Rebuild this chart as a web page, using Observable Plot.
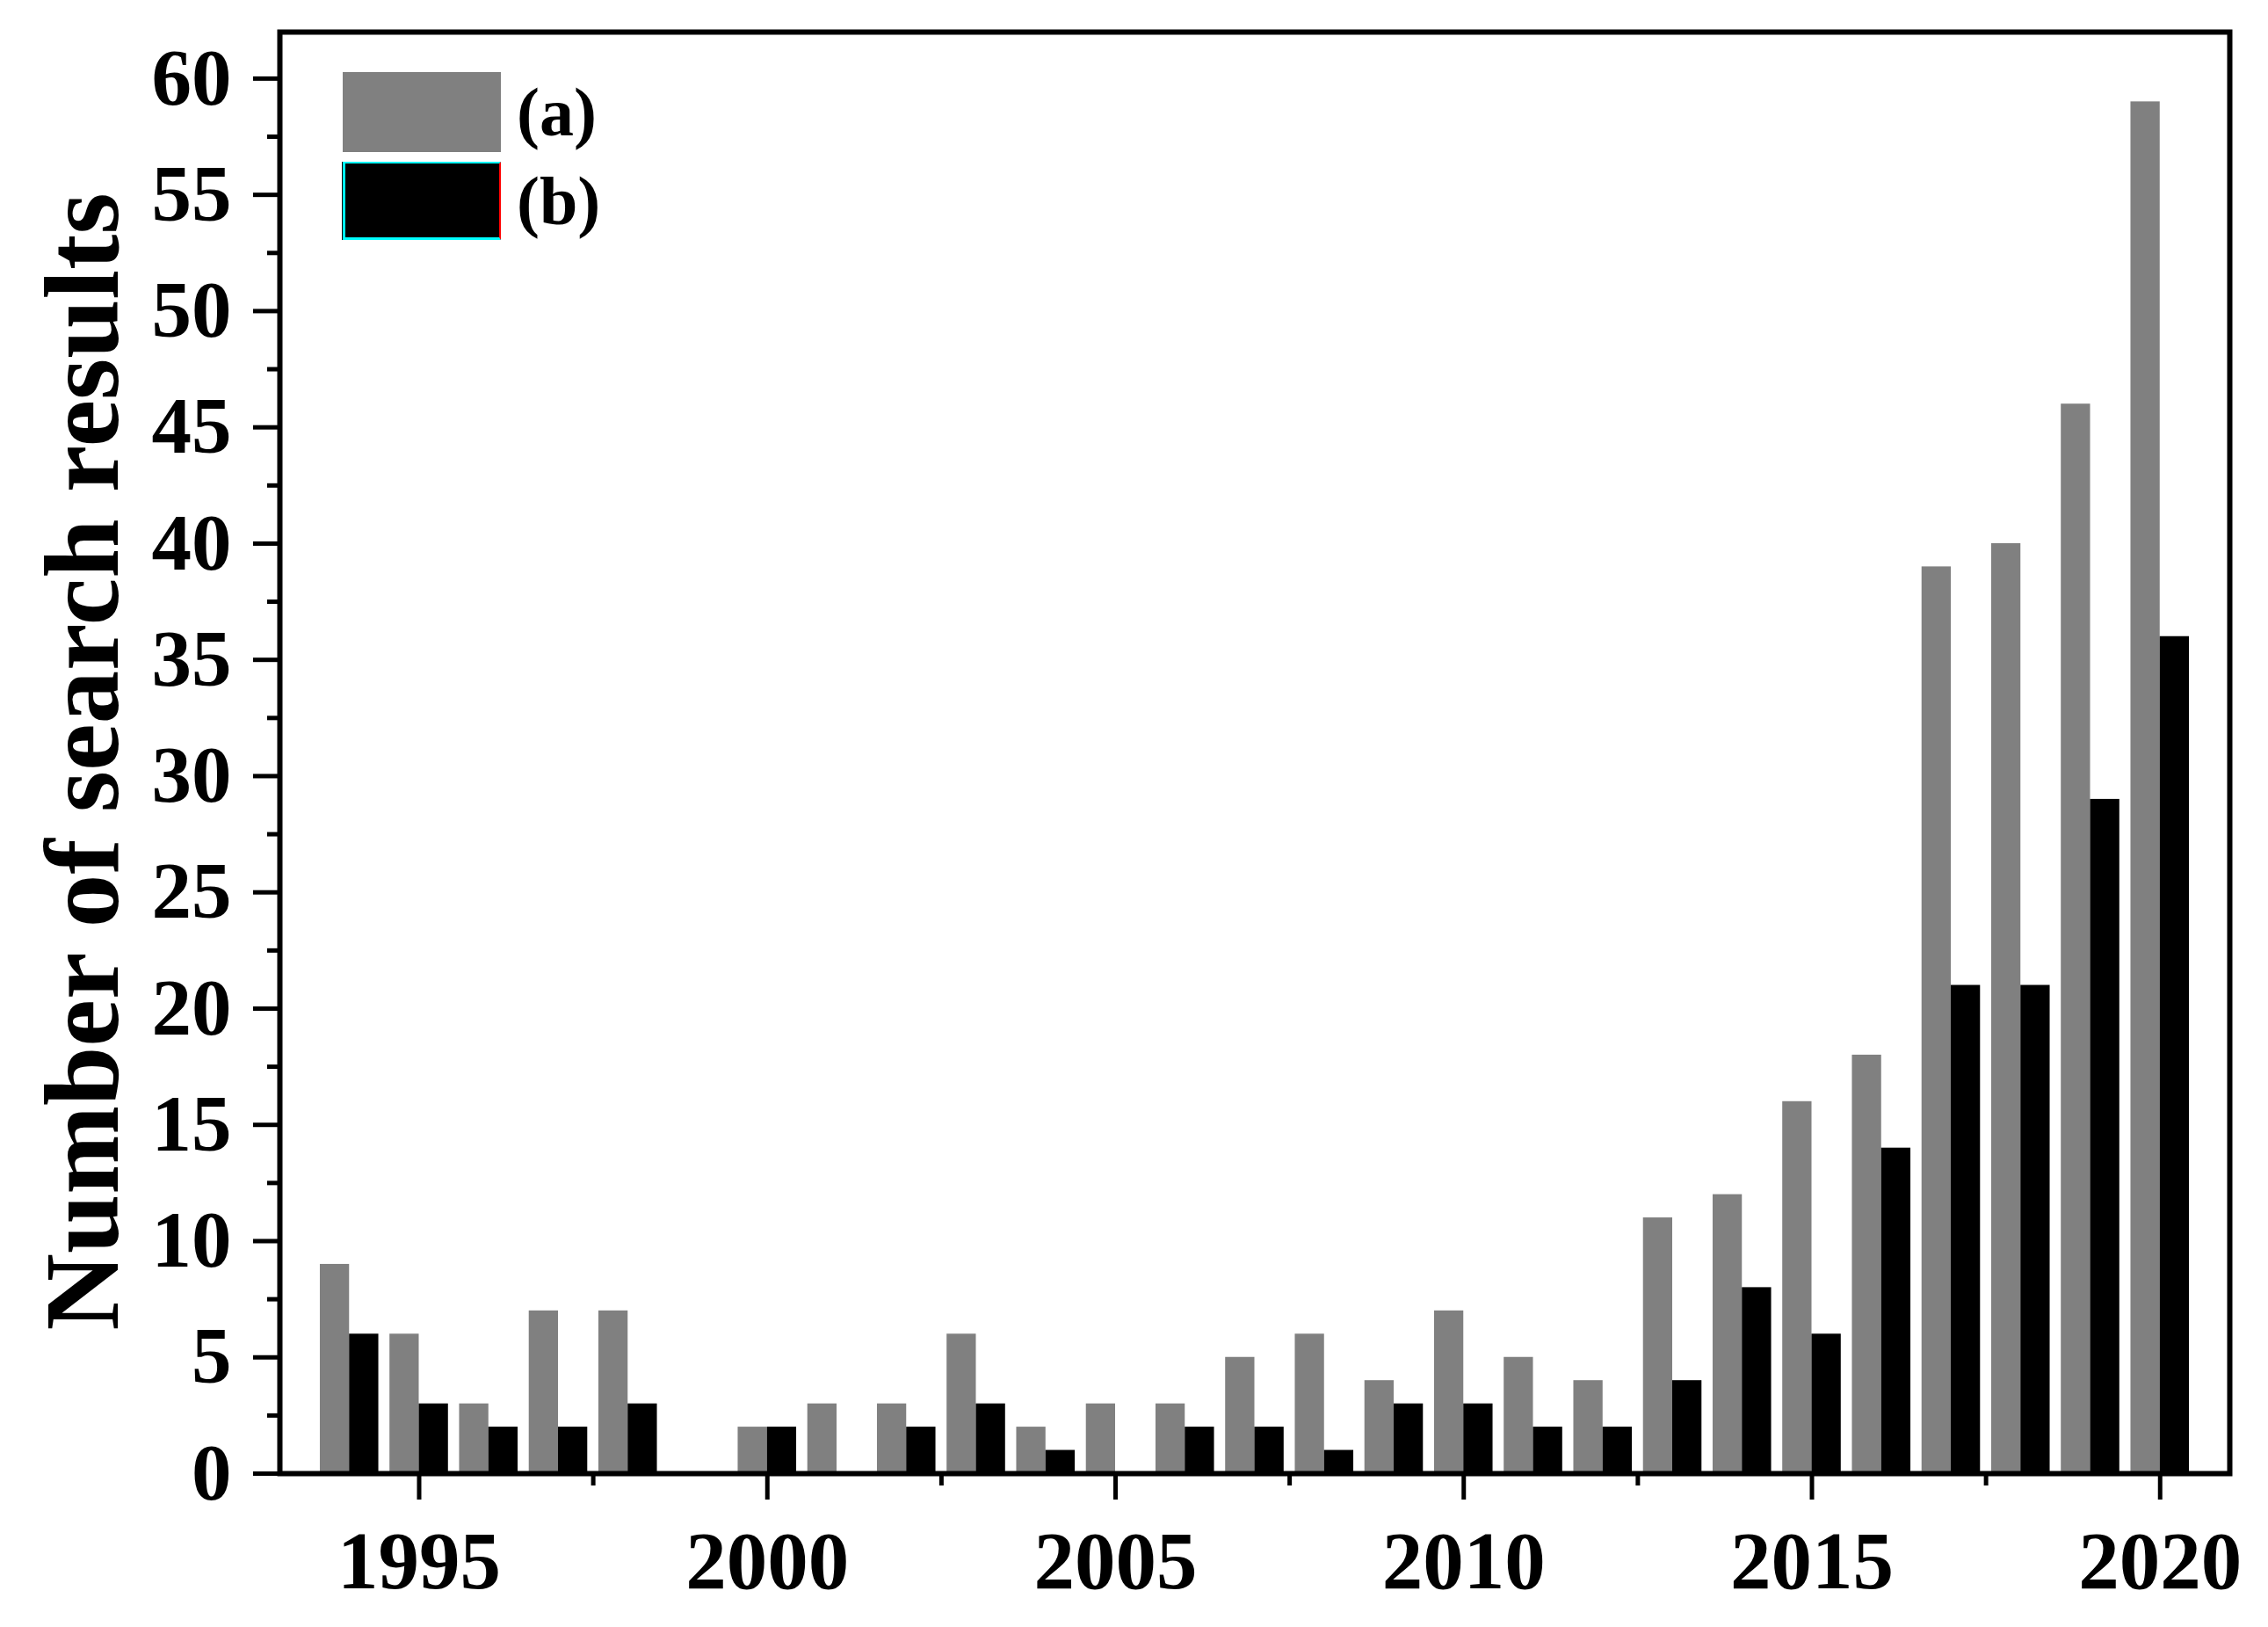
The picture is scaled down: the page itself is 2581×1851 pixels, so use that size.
<!DOCTYPE html>
<html>
<head>
<meta charset="utf-8">
<script src="https://cdn.jsdelivr.net/npm/d3@7"></script>
<script src="https://cdn.jsdelivr.net/npm/@observablehq/plot@0.6"></script>
<style>
  html, body { margin: 0; padding: 0; background: #fff; }
  #wrap { position: relative; width: 2581px; height: 1851px; font-family: "Liberation Serif", "Times New Roman", serif; font-weight: bold; }
  .sw { position: absolute; left: 390px; width: 180px; box-sizing: border-box; }
  .sw.b { border-top: 2px solid #00ffff; border-bottom: 3px solid #00ffff; border-left: 3px solid #00ffff; border-right: 2px solid #ff0000; box-shadow: -1px 0 0 #000; }
  .lab { position: absolute; left: 588px; font-size: 78px; line-height: 1; font-weight: bold; color: #000; }
</style>
</head>
<body>
<div id="wrap"></div>
<script>
const years = [1994,1995,1996,1997,1998,1999,2000,2001,2002,2003,2004,2005,2006,2007,2008,2009,2010,2011,2012,2013,2014,2015,2016,2017,2018,2019,2020];
const seriesA = [9,6,3,7,7,0,2,3,3,6,2,3,3,5,6,4,7,5,4,11,12,16,18,39,40,46,59];
const seriesB = [6,3,2,2,3,0,2,0,2,3,1,0,2,2,1,3,3,2,2,4,8,6,14,21,21,29,36];
const seriesNames = ["(a)", "(b)"];
const seriesColors = ["#808080", "#000000"];
const xMajorTicks = [1995, 2000, 2005, 2010, 2015, 2020];
const xMinorTicks = [1997.5, 2002.5, 2007.5, 2012.5, 2017.5];
const yMajorTicks = [0,5,10,15,20,25,30,35,40,45,50,55,60];
const yMinorTicks = [2.5,7.5,12.5,17.5,22.5,27.5,32.5,37.5,42.5,47.5,52.5,57.5];
const yLabel = "Number of search results";

const barW = 0.42;
const dataA = years.map((y, i) => ({year: y, value: seriesA[i]}));
const dataB = years.map((y, i) => ({year: y, value: seriesB[i]}));

const font = "Liberation Serif";
const plot = Plot.plot({
  width: 2581,
  height: 1851,
  marginLeft: 318,
  marginRight: 44,
  marginTop: 36,
  marginBottom: 175,
  style: {fontFamily: font, fontWeight: "bold", background: "#fff", color: "#000"},
  x: {domain: [1993, 2021]},
  y: {domain: [0, 62]},
  marks: [
    Plot.rectY(dataA.filter(d => d.value > 0), {x1: d => d.year - barW, x2: d => d.year, y: "value", fill: seriesColors[0]}),
    Plot.rectY(dataB.filter(d => d.value > 0), {x1: d => d.year, x2: d => d.year + barW, y: "value", fill: seriesColors[1]}),
    Plot.axisX({ticks: xMajorTicks, tickSize: 30, tickPadding: 34, strokeWidth: 5, fontSize: 93, tickFormat: d => String(d), label: null}),
    Plot.axisX({ticks: xMinorTicks, tickSize: 14, strokeWidth: 5, tickFormat: () => "", label: null}),
    Plot.axisY({ticks: yMajorTicks, tickSize: 30, tickPadding: 25, strokeWidth: 5, fontSize: 91, tickFormat: d => String(d), label: null}),
    Plot.axisY({ticks: yMinorTicks, tickSize: 14, strokeWidth: 5, tickFormat: () => "", label: null}),
    Plot.text([yLabel], {frameAnchor: "left", rotate: -90, dx: -270, dy: 10, lineAnchor: "top", textAnchor: "middle", fontSize: 121, fontWeight: "bold", fontFamily: font, fill: "#000"}),
    Plot.frame({stroke: "#000", strokeWidth: 6})
  ]
});
const wrap = document.getElementById("wrap");
wrap.appendChild(plot);

// legend
const legendTops = [82, 184];
const legendH = [91, 89];
seriesNames.forEach((name, i) => {
  const sw = document.createElement("div");
  sw.className = "sw" + (i === 1 ? " b" : "");
  sw.style.top = legendTops[i] + "px";
  sw.style.height = legendH[i] + "px";
  sw.style.background = seriesColors[i];
  wrap.appendChild(sw);
  const lab = document.createElement("div");
  lab.className = "lab";
  lab.style.top = (legendTops[i] + legendH[i] / 2 - 39) + "px";
  lab.textContent = name;
  wrap.appendChild(lab);
});
</script>
</body>
</html>
